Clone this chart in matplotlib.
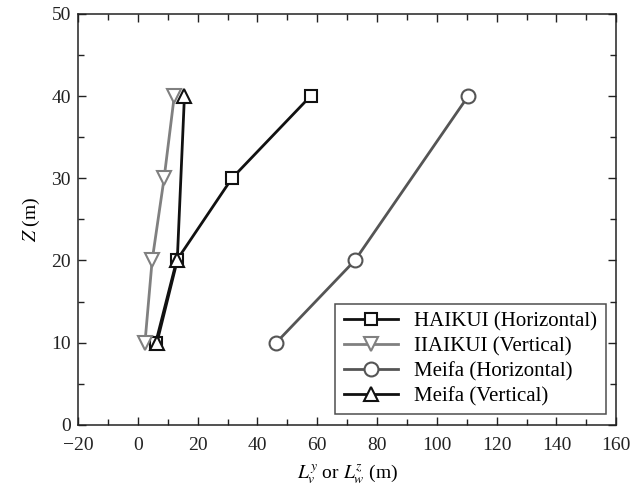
import matplotlib
matplotlib.use('Agg')
from matplotlib import pyplot as plt
from matplotlib.ticker import MultipleLocator

plt.rcParams['font.family'] = ['Liberation Serif', 'DejaVu Serif']
plt.rcParams['mathtext.fontset'] = 'stix'

# integral length scales vs height
z_haikui = [10, 20, 30, 40]
haikui_h = [6.0, 13.0, 31.5, 57.8]
haikui_v = [2.4, 4.8, 8.8, 12.2]
z_meifa_h = [10, 20, 40]
meifa_h = [46.3, 72.6, 110.5]
z_meifa_v = [10, 20, 40]
meifa_v = [6.4, 13.2, 15.6]

labels = ['HAIKUI (Horizontal)', 'IIAIKUI (Vertical)',
          'Meifa (Horizontal)', 'Meifa (Vertical)']

fig = plt.figure(figsize=(6.34, 4.94), dpi=100)
ax = fig.add_axes([0.123, 0.140, 0.849, 0.832])

ax.plot(haikui_h, z_haikui, '-s', color='#111111', lw=2, ms=9,
        mfc='white', mew=1.5, label=labels[0])
ax.plot(haikui_v, z_haikui, '-v', color='#808080', lw=2, ms=10,
        mfc='white', mew=1.5, label=labels[1])
ax.plot(meifa_h, z_meifa_h, '-o', color='#555555', lw=2, ms=10,
        mfc='white', mew=1.5, label=labels[2])
ax.plot(meifa_v, z_meifa_v, '-^', color='#111111', lw=2, ms=10,
        mfc='white', mew=1.5, label=labels[3])

ax.set_xlim(-20, 160)
ax.set_ylim(0, 50)
ax.xaxis.set_major_locator(MultipleLocator(20))
ax.xaxis.set_minor_locator(MultipleLocator(10))
ax.yaxis.set_major_locator(MultipleLocator(10))
ax.yaxis.set_minor_locator(MultipleLocator(5))
ax.tick_params(which='both', direction='in', top=True, right=True,
               labelsize=14, width=1, colors='#222222')
ax.tick_params(which='major', length=6)
ax.tick_params(which='minor', length=4)
ax.tick_params(axis='x', pad=9)
ax.tick_params(axis='y', pad=5)
for s in ax.spines.values():
    s.set_linewidth(1.1)
    s.set_color('#222222')

ax.set_xlabel(r'$L_v^y$ or $L_w^z$ (m)', fontsize=14, labelpad=6)
ax.set_ylabel(r'$Z$ (m)', fontsize=14, labelpad=7)

leg = ax.legend(loc='lower right', fontsize=15, frameon=True, fancybox=False,
                edgecolor='#222222', handlelength=2.6, borderaxespad=0.5,
                labelspacing=0.25, handletextpad=0.8, borderpad=0.4)
leg.get_frame().set_linewidth(1.1)

plt.savefig('out.png', dpi=100)
